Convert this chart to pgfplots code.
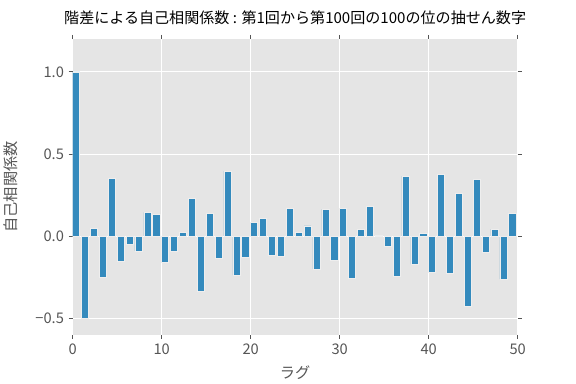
\documentclass[border=0pt]{standalone}
\usepackage{fontspec}
\setmainfont{Noto Sans CJK JP}
\usepackage{pgfplots}
\pgfplotsset{compat=1.18}
\usepackage{pgfplotstable}
\definecolor{bg}{HTML}{E5E5E5}
\definecolor{barc}{HTML}{348ABD}
\definecolor{txt}{HTML}{555555}
\definecolor{edge}{HTML}{EEEEEE}
\pgfplotstableread{
lag val
0 1.0
1 -0.497
2 0.048
3 -0.248
4 0.351
5 -0.152
6 -0.048
7 -0.089
8 0.145
9 0.135
10 -0.156
11 -0.089
12 0.024
13 0.230
14 -0.333
15 0.141
16 -0.132
17 0.396
18 -0.236
19 -0.127
20 0.087
21 0.111
22 -0.115
23 -0.121
24 0.172
25 0.026
26 0.063
27 -0.198
28 0.166
29 -0.149
30 0.172
31 -0.253
32 0.044
33 0.184
34 0.003
35 -0.061
36 -0.242
37 0.366
38 -0.170
39 0.020
40 -0.218
41 0.378
42 -0.228
43 0.263
44 -0.428
45 0.347
46 -0.097
47 0.044
48 -0.261
49 0.137
}\acfdata
\begin{document}
\begin{tikzpicture}
\useasboundingbox (-54.5pt,-36.75pt) rectangle ++(432pt,288pt);
\begin{axis}[
  at={(0,0)}, anchor=south west,
  scale only axis,
  width=333.75pt, height=222pt,
  xmin=0, xmax=50, ymin=-0.6, ymax=1.2,
  axis background/.style={fill=bg},
  axis line style={draw=none},
  grid=major,
  major grid style={white, line width=0.8pt},
  tick pos=both,
  tick align=outside,
  major tick length=3pt,
  tick style={txt, line width=0.6pt},
  xtick={0,10,20,30,40,50},
  xticklabels={0,10,20,30,40,50},
  ytick={-0.5,0,0.5,1},
  yticklabels={−0.5,0.0,0.5,1.0},
  ticklabel style={font=\fontsize{11}{13}\selectfont, text=txt},
  xticklabel pos=lower,
  yticklabel pos=left,
  title={階差による自己相関係数 : 第1回から第100回の100の位の抽せん数字},
  title style={at={(axis description cs:0.5,1.044)}, anchor=center, font=\fontsize{11.3}{13}\selectfont, text=black},
  xlabel={ラグ},
  xlabel style={at={(axis description cs:0.5,-0.128)}, anchor=center, font=\fontsize{11.4}{13}\selectfont, text=txt},
  ylabel={自己相関係数},
  ylabel style={at={(axis description cs:-0.139,0.5)}, anchor=center, font=\fontsize{11.4}{13}\selectfont, text=txt},
  ybar,
  bar width=0.8,
]
\addplot[fill=barc, draw=edge, line width=0.5pt, bar shift=0.4] table[x=lag, y=val] {\acfdata};
\end{axis}
\end{tikzpicture}
\end{document}
